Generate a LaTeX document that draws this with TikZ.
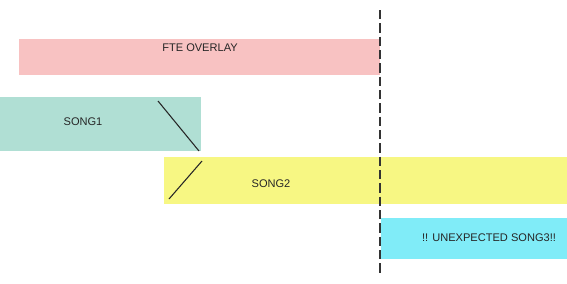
\documentclass[tikz,border=0pt]{standalone}
\usepackage{fontspec}
\setmainfont{Liberation Sans}
\usetikzlibrary{fit}
\definecolor{fteFill}{RGB}{248,194,194}
\definecolor{oneFill}{RGB}{176,223,212}
\definecolor{twoFill}{RGB}{247,247,131}
\definecolor{thrFill}{RGB}{128,236,248}

\begin{document}
\begin{tikzpicture}[x=0.75pt,y=-0.75pt,font=\fontsize{8.3}{10}\selectfont,
  bar/.style={draw=none,inner sep=0pt,outer sep=0pt},
  lbl/.style={inner sep=0pt,text=black!85},
  cut/.style={line width=0.8pt,black!85}]
\useasboundingbox (0,0) rectangle (567,283);
% track bars
\node[bar,fill=fteFill,fit={(19,39) (380,75)}] (fte) {};
\node[bar,fill=oneFill,fit={(0,97) (201,151)}] (song1) {};
\node[bar,fill=twoFill,fit={(164,157) (567,204)}] (song2) {};
\node[bar,fill=thrFill,fit={(381,218) (567,259)}] (song3) {};
% labels
\node[lbl] (fteL) at (200,48) {FTE OVERLAY};
\node[lbl] (oneL) at (83,122) {SONG1};
\node[lbl] (twoL) at (271,184) {SONG2};
\node[lbl] (thrL) at (489,238) {!! UNEXPECTED SONG3!!};
% crossfade marks
\coordinate (outA) at (158,101); \coordinate (outB) at (199,151);
\coordinate (inA) at (169,199);  \coordinate (inB) at (202,161);
\draw[cut] (outA) -- (outB);
\draw[cut] (inA) -- (inB);
% cut point
\coordinate (cutT) at (380,10); \coordinate (cutB) at (380,273);
\draw[line width=0.8pt,black!80,dash pattern=on 7pt off 3pt] (cutT) -- (cutB);
\end{tikzpicture}
\end{document}
